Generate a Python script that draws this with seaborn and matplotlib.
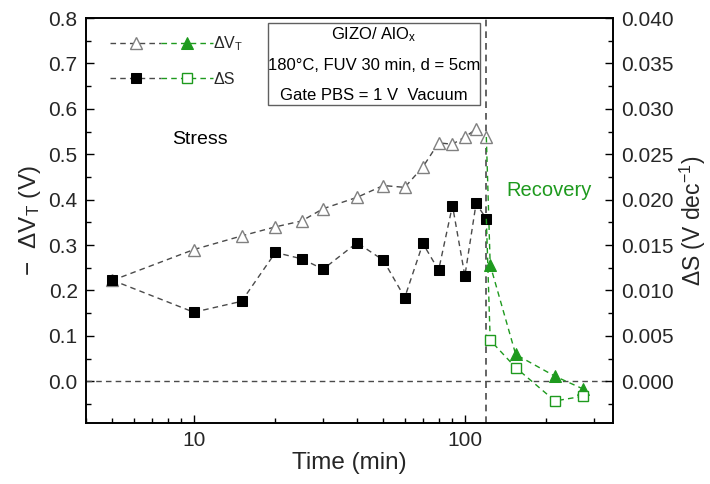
import numpy as np
import pandas as pd
import seaborn as sns
import matplotlib
matplotlib.use("Agg")
import matplotlib.pyplot as plt
from matplotlib.legend_handler import HandlerTuple
from matplotlib.patches import Rectangle
from matplotlib.ticker import LogLocator, NullFormatter, MultipleLocator, FixedLocator, FixedFormatter

# ---------------- data ----------------
stress_time = [5, 10, 15, 20, 25, 30, 40, 50, 60, 70, 80, 90, 100, 110, 120]
stress_dvt = [0.222, 0.290, 0.320, 0.340, 0.353, 0.380, 0.405, 0.431, 0.427,
              0.472, 0.525, 0.522, 0.538, 0.555, 0.538]
stress_ds = [0.01113, 0.0076, 0.0088, 0.01418, 0.01348, 0.01234, 0.01525, 0.01333,
             0.00922, 0.01517, 0.01223, 0.01935, 0.0116, 0.01958, 0.01789]
recovery_time = [124, 154, 215, 273]
recovery_dvt = [0.256, 0.059, 0.011, -0.017]
recovery_ds = [0.00452, 0.0015, -0.00217, -0.00165]

box_lines = ["GIZO/ AlO$_\\mathrm{x}$", "180°C, FUV 30 min, d = 5cm",
             "Gate PBS = 1 V  Vacuum"]

# ---------------- style ----------------
sns.set_style("ticks")
plt.rcParams['font.family'] = ['Liberation Sans', 'DejaVu Sans']
plt.rcParams['mathtext.fontset'] = 'custom'
plt.rcParams['mathtext.rm'] = 'Liberation Sans'
plt.rcParams['mathtext.it'] = 'Liberation Sans:italic'
plt.rcParams['axes.linewidth'] = 1.2

GREEN = '#1e9a1e'
GRAY_LINE = '#4a4a4a'
DASH = (0, (4, 3))

fig = plt.figure(figsize=(7.10, 4.84), dpi=100)
ax = fig.add_axes([86/710, 1-423/484, (613-86)/710, (423-18)/484])
ax.set_xscale('log')
ax2 = ax.twinx()

# Stress dVT (open gray triangles)
sns.lineplot(x=stress_time, y=stress_dvt, ax=ax, color=GRAY_LINE, linestyle=DASH, lw=1.0,
             marker='^', markersize=9, markerfacecolor='white', markeredgecolor='#808080',
             markeredgewidth=1.0, legend=False, sort=False)
h_tri_gray = ax.lines[-1]
# Recovery dVT (filled green triangles)
sns.lineplot(x=[stress_time[-1]] + recovery_time, y=[stress_dvt[-1]] + recovery_dvt, ax=ax,
             color=GREEN, linestyle=DASH, lw=1.0, marker='^', markersize=9,
             markerfacecolor=GREEN, markeredgecolor=GREEN, markevery=[1, 2, 3, 4],
             legend=False, sort=False)
h_tri_green = ax.lines[-1]

# Stress dS (filled black squares)
sns.lineplot(x=stress_time, y=stress_ds, ax=ax2, color=GRAY_LINE, linestyle=DASH, lw=1.0,
             marker='s', markersize=7, markerfacecolor='black', markeredgecolor='black',
             legend=False, sort=False)
h_sq_black = ax2.lines[-1]
# Recovery dS (open green squares)
sns.lineplot(x=[stress_time[-1]] + recovery_time, y=[stress_ds[-1]] + recovery_ds, ax=ax2,
             color=GREEN, linestyle=DASH, lw=1.0, marker='s', markersize=7,
             markerfacecolor='white', markeredgecolor=GREEN, markeredgewidth=1.0,
             markevery=[1, 2, 3, 4], legend=False, sort=False)
h_sq_green = ax2.lines[-1]

# reference lines
ax.axhline(0, color=GRAY_LINE, linestyle=DASH, lw=1.0, zorder=1)
ax.axvline(120, color=GRAY_LINE, linestyle=DASH, lw=1.2, zorder=1)

# axes limits and ticks
ax.set_xlim(4.0, 352)
ax.set_ylim(-0.092, 0.8)
ax2.set_ylim(-0.0046, 0.040)

ax.xaxis.set_major_locator(FixedLocator([10, 100]))
ax.xaxis.set_major_formatter(FixedFormatter(['10', '100']))
ax.xaxis.set_minor_locator(LogLocator(base=10, subs=np.arange(2, 10)))
ax.xaxis.set_minor_formatter(NullFormatter())
ax.yaxis.set_major_locator(MultipleLocator(0.1))
ax.yaxis.set_minor_locator(MultipleLocator(0.05))
ax.yaxis.set_major_formatter(matplotlib.ticker.FormatStrFormatter('%.1f'))
ax2.yaxis.set_major_locator(MultipleLocator(0.005))
ax2.yaxis.set_minor_locator(MultipleLocator(0.0025))
ax2.yaxis.set_major_formatter(matplotlib.ticker.FormatStrFormatter('%.3f'))

for a in (ax, ax2):
    a.tick_params(which='both', direction='in', labelsize=15, width=1.0, color='black')
    a.tick_params(which='major', length=6)
    a.tick_params(which='minor', length=3.5)
ax.tick_params(axis='y', which='both', right=False, pad=6)
ax.tick_params(axis='x', which='both', top=False, pad=6)
ax2.tick_params(axis='y', which='both', left=False, right=True, pad=6)
for a in (ax, ax2):
    for s in a.spines.values():
        s.set_visible(True)
        s.set_color('black')

ax.set_xlabel('Time (min)', fontsize=17.5, labelpad=1)
ax.set_ylabel('−  ΔV$_\\mathrm{T}$ (V)', fontsize=17.5, labelpad=4)
ax2.set_ylabel('ΔS (V dec$^{\\mathrm{-1}}$)', fontsize=16.5, labelpad=3, rotation=90)

# legend
leg = ax.legend([(h_tri_gray, h_tri_green), (h_sq_black, h_sq_green)],
                ['ΔV$_\\mathrm{T}$', 'ΔS'],
                handler_map={tuple: HandlerTuple(ndivide=None, pad=0)},
                loc='upper left', bbox_to_anchor=(0.034, 0.976), frameon=False,
                handlelength=6.4, handletextpad=0.05, labelspacing=1.2,
                fontsize=11.5, borderaxespad=0.0)

# annotations
ax.text(0.163, 0.70, 'Stress', transform=ax.transAxes, fontsize=14, color='black',
        ha='left', va='center')
ax.text(0.798, 0.575, 'Recovery', transform=ax.transAxes, fontsize=14.5, color=GREEN,
        ha='left', va='center')

# info box
fig.patches.append(Rectangle((268/710, 1-105/484), (480-268)/710, (105-23)/484,
                             transform=fig.transFigure, fill=False,
                             edgecolor='#606060', lw=1.0, zorder=5))
for yy, s in zip([35, 66, 96], box_lines):
    fig.text(374/710, 1-yy/484, s, ha='center', va='center', fontsize=12, color='black')

fig.savefig('out.png', dpi=100)
